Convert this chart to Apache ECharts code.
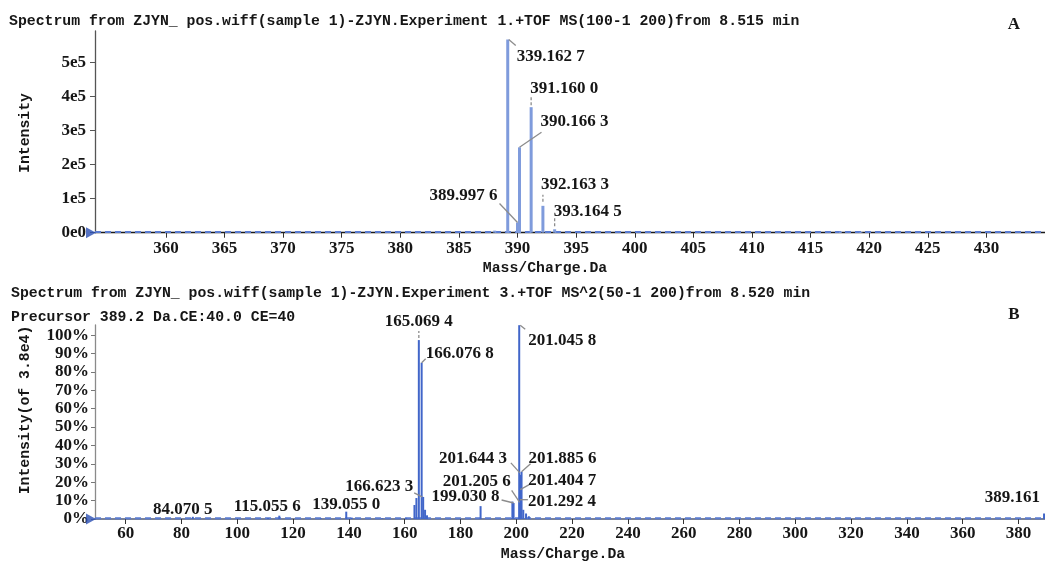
<!DOCTYPE html>
<html>
<head>
<meta charset="utf-8">
<script src="https://cdn.jsdelivr.net/npm/echarts@6/dist/echarts.min.js"></script>
<style>
  html, body { margin: 0; padding: 0; background: #fff; }
  #chart { width: 1045px; height: 562px; }
</style>
</head>
<body>
<div id="chart"></div>
<script>
// ---- Panel A: TOF MS survey spectrum ----
const titleA = 'Spectrum from ZJYN_ pos.wiff(sample 1)-ZJYN.Experiment 1.+TOF MS(100-1 200)from 8.515 min';
const massA = [388.05, 389.1627, 389.9976, 390.1663, 391.1600, 392.1633, 393.1645, 417.55, 419.30];
const intensityA = [6000, 568000, 30000, 251000, 369000, 79000, 10000, 3000, 2000];
const peakLabelsA = ['', '339.162 7', '389.997 6', '390.166 3', '391.160 0', '392.163 3', '393.164 5', '', ''];
const noiseFloorA = [[353.95, 1800], [435.0, 1800]];
const xTicksA = [360, 365, 370, 375, 380, 385, 390, 395, 400, 405, 410, 415, 420, 425, 430];
const yTicksA = [0, 100000, 200000, 300000, 400000, 500000];
const yTickLabelsA = ['0e0', '1e5', '2e5', '3e5', '4e5', '5e5'];

// ---- Panel B: TOF MS^2 product ion spectrum (% of 3.8e4) ----
const titleB1 = 'Spectrum from ZJYN_ pos.wiff(sample 1)-ZJYN.Experiment 3.+TOF MS^2(50-1 200)from 8.520 min';
const titleB2 = 'Precursor 389.2 Da.CE:40.0 CE=40';
const massB = [84.0705, 111.0, 115.0556, 130.0, 139.0550, 141.0, 152.0, 160.5,
               163.5, 164.2, 165.0694, 166.0768, 166.6233, 167.3, 168.0,
               187.2, 198.6, 199.0308, 201.0458, 201.2056, 201.2924, 201.4047,
               201.6443, 201.8856, 202.5, 203.5, 204.5, 389.161];
const percentB = [1.2, 0.5, 1.8, 0.3, 4.0, 0.8, 0.4, 0.6,
                  7.6, 11.4, 97.3, 85.0, 12.0, 5.0, 2.0,
                  7.0, 9.5, 8.7, 105.4, 9.0, 10.5, 16.0,
                  24.0, 25.7, 5.0, 3.0, 1.5, 3.0];
const peakLabelsB = ['84.070 5', '', '115.055 6', '', '139.055 0', '', '', '',
                     '', '', '165.069 4', '166.076 8', '166.623 3', '', '',
                     '', '', '199.030 8', '201.045 8', '201.205 6', '201.292 4', '201.404 7',
                     '201.644 3', '201.885 6', '', '', '', '389.161'];
const noiseFloorB = [[49, 0.4], [389.5, 0.4]];
const xTicksB = [60, 80, 100, 120, 140, 160, 180, 200, 220, 240, 260, 280, 300, 320, 340, 360, 380];
const yTicksB = [0, 10, 20, 30, 40, 50, 60, 70, 80, 90, 100];
const yTickLabelsB = ['0%', '10%', '20%', '30%', '40%', '50%', '60%', '70%', '80%', '90%', '100%'];

// ---- annotation placement: offsets (px) from the peak apex ----
const annotLayoutA = {
  '339.162 7': { line: [[1, 0], [8, 6]], at: [9, 17], align: 'left' },
  '391.160 0': { line: [[0, -2], [0, -11]], dash: true, at: [-1, -19], align: 'left' },
  '390.166 3': { line: [[0, 0], [22, -15]], at: [21, -26], align: 'left' },
  '389.997 6': { line: [[0, 0], [-18, -19]], at: [-20, -27], align: 'right' },
  '392.163 3': { line: [[0, -4], [0, -11]], dash: true, at: [-2, -21], align: 'left' },
  '393.164 5': { line: [[0, -3], [0, -11]], dash: true, at: [-1, -18], align: 'left' }
};
const annotLayoutB = {
  '84.070 5': { at: [-10, -7], align: 'center' },
  '115.055 6': { at: [-12, -9], align: 'center' },
  '139.055 0': { at: [0, -7], align: 'center' },
  '165.069 4': { line: [[0, -2], [0, -9]], dash: true, at: [0, -18], align: 'center' },
  '166.076 8': { line: [[0, 0], [4, -4]], at: [4, -9], align: 'left' },
  '166.623 3': { line: [[-1, 0], [-9, -4]], at: [-10, -10], align: 'right' },
  '199.030 8': { line: [[0, 0], [-12, -3]], at: [-14, -6], align: 'right' },
  '201.045 8': { line: [[1, 0], [6, 4]], at: [9, 15], align: 'left' },
  '201.205 6': { line: [[0, 0], [-8, -12]], at: [-9, -21], align: 'right' },
  '201.292 4': { line: [[0, 0], [8, 0]], at: [8, 2], align: 'left' },
  '201.404 7': { line: [[0, 0], [9, -5]], at: [8, -9], align: 'left' },
  '201.644 3': { line: [[-1, -2], [-10, -12]], at: [-14, -16], align: 'right' },
  '201.885 6': { line: [[0, 0], [9, -8]], at: [7, -13], align: 'left' },
  '389.161': { at: [-4, -16], align: 'right' }
};

const MONO = '"Liberation Mono", "DejaVu Sans Mono", monospace';
const SERIF = '"Liberation Serif", "DejaVu Serif", serif';
const TEXT = '#161616';
const NUM_FONT = 'bold 17px ' + SERIF;

function zip(xs, ys) { return xs.map((x, i) => [x, ys[i]]); }

// vertical stick for every centroided peak
function stickRenderer(width, color) {
  return function (params, api) {
    const top = api.coord([api.value(0), api.value(1)]);
    const base = api.coord([api.value(0), 0]);
    return {
      type: 'rect',
      shape: { x: top[0] - width / 2, y: top[1], width: width, height: base[1] - top[1] },
      style: { fill: color }
    };
  };
}

// m/z annotation with leader line
function annotRenderer(labels, layout) {
  return function (params, api) {
    const text = labels[params.dataIndex];
    const a = layout[text];
    if (!text || !a) return null;
    const top = api.coord([api.value(0), api.value(1)]);
    const children = [];
    if (a.line) {
      children.push({
        type: 'polyline',
        shape: { points: a.line.map(p => [top[0] + p[0], top[1] + p[1]]) },
        style: { stroke: '#8c8c8c', lineWidth: 1.3, lineDash: a.dash ? [3, 2] : null, fill: null }
      });
    }
    children.push({
      type: 'text',
      x: top[0] + a.at[0],
      y: top[1] + a.at[1],
      style: { text: text, fill: TEXT, font: NUM_FONT, align: a.align, verticalAlign: 'middle' }
    });
    return { type: 'group', children: children };
  };
}

function tickFormatter(ticks, labels) {
  return v => { const i = ticks.indexOf(v); return i >= 0 ? labels[i] : ''; };
}

const axisLabelStyle = { fontFamily: SERIF, fontSize: 17, fontWeight: 'bold', color: TEXT };

const chart = echarts.init(document.getElementById('chart'), null, { renderer: 'canvas' });

chart.setOption({
  animation: false,
  backgroundColor: '#ffffff',
  grid: [
    { left: 95, top: 31, width: 950, height: 201.7 },
    { left: 95, top: 325, width: 950, height: 194 }
  ],
  xAxis: [
    {
      gridIndex: 0, type: 'value', min: 353.95, max: 435.0,
      axisLine: { lineStyle: { color: '#1a1a1a', width: 1.3 } },
      axisTick: { customValues: xTicksA, length: 5, lineStyle: { color: '#333' } },
      axisLabel: Object.assign({ customValues: xTicksA, margin: 7 }, axisLabelStyle),
      splitLine: { show: false }
    },
    {
      gridIndex: 1, type: 'value', min: 49, max: 389.5,
      axisLine: { lineStyle: { color: '#4f5a78', width: 1.5 } },
      axisTick: { customValues: xTicksB, length: 5, lineStyle: { color: '#333' } },
      axisLabel: Object.assign({ customValues: xTicksB, margin: 6 }, axisLabelStyle),
      splitLine: { show: false }
    }
  ],
  yAxis: [
    {
      gridIndex: 0, type: 'value', min: 0, max: 593000,
      axisLine: { show: true, lineStyle: { color: '#555', width: 1.3 } },
      axisTick: { show: true, customValues: yTicksA, length: 5, lineStyle: { color: '#555' } },
      axisLabel: Object.assign({ customValues: yTicksA, margin: 9,
        formatter: tickFormatter(yTicksA, yTickLabelsA) }, axisLabelStyle),
      splitLine: { show: false }
    },
    {
      gridIndex: 1, type: 'value', min: 0, max: 105.5,
      axisLine: { show: true, lineStyle: { color: '#8a8a8a', width: 1.3 } },
      axisTick: { show: true, customValues: yTicksB, length: 4, lineStyle: { color: '#777' } },
      axisLabel: Object.assign({ customValues: yTicksB, margin: 6,
        formatter: tickFormatter(yTicksB, yTickLabelsB) }, axisLabelStyle),
      splitLine: { show: false }
    }
  ],
  graphic: [
    { type: 'text', x: 9, y: 21, style: { text: titleA, font: 'bold 14.8px ' + MONO, fill: TEXT, verticalAlign: 'middle' } },
    { type: 'text', x: 1014, y: 25, style: { text: 'A', font: 'bold 17px ' + SERIF, fill: TEXT, align: 'center', verticalAlign: 'middle' } },
    { type: 'text', x: 25, y: 133, rotation: Math.PI / 2, style: { text: 'Intensity', font: 'bold 14.8px ' + MONO, fill: TEXT, align: 'center', verticalAlign: 'middle' } },
    { type: 'text', x: 545, y: 268, style: { text: 'Mass/Charge.Da', font: 'bold 14.8px ' + MONO, fill: TEXT, align: 'center', verticalAlign: 'middle' } },
    { type: 'text', x: 11, y: 293, style: { text: titleB1, font: 'bold 14.8px ' + MONO, fill: TEXT, verticalAlign: 'middle' } },
    { type: 'text', x: 11, y: 317, style: { text: titleB2, font: 'bold 14.8px ' + MONO, fill: TEXT, verticalAlign: 'middle' } },
    { type: 'text', x: 1014, y: 315, style: { text: 'B', font: 'bold 17px ' + SERIF, fill: TEXT, align: 'center', verticalAlign: 'middle' } },
    { type: 'text', x: 25, y: 410, rotation: Math.PI / 2, style: { text: 'Intensity(of 3.8e4)', font: 'bold 14.8px ' + MONO, fill: TEXT, align: 'center', verticalAlign: 'middle' } },
    { type: 'text', x: 563, y: 554, style: { text: 'Mass/Charge.Da', font: 'bold 14.8px ' + MONO, fill: TEXT, align: 'center', verticalAlign: 'middle' } }
  ],
  series: [
    // panel A
    {
      type: 'line', xAxisIndex: 0, yAxisIndex: 0, data: noiseFloorA, symbol: 'none', silent: true,
      lineStyle: { color: '#5a7bd0', width: 2, type: [6, 4] }, z: 2
    },
    {
      type: 'custom', xAxisIndex: 0, yAxisIndex: 0, data: zip(massA, intensityA),
      encode: { x: 0, y: 1 }, renderItem: stickRenderer(3, '#7f9bdc'), z: 3
    },
    {
      type: 'custom', xAxisIndex: 0, yAxisIndex: 0, data: zip(massA, intensityA),
      encode: { x: 0, y: 1 }, renderItem: annotRenderer(peakLabelsA, annotLayoutA), z: 4
    },
    {
      type: 'scatter', xAxisIndex: 0, yAxisIndex: 0, data: [[353.95, 0]], clip: false,
      symbol: 'triangle', symbolRotate: -90, symbolSize: [11, 10], symbolOffset: [-4, 0],
      itemStyle: { color: '#2b4fb3' }, silent: true, z: 5
    },
    // panel B
    {
      type: 'line', xAxisIndex: 1, yAxisIndex: 1, data: noiseFloorB, symbol: 'none', silent: true,
      lineStyle: { color: '#5a7bd0', width: 2, type: [6, 4] }, z: 2
    },
    {
      type: 'custom', xAxisIndex: 1, yAxisIndex: 1, data: zip(massB, percentB),
      encode: { x: 0, y: 1 }, renderItem: stickRenderer(2, '#4166c9'), z: 3
    },
    {
      type: 'custom', xAxisIndex: 1, yAxisIndex: 1, data: zip(massB, percentB),
      encode: { x: 0, y: 1 }, renderItem: annotRenderer(peakLabelsB, annotLayoutB), z: 4
    },
    {
      type: 'scatter', xAxisIndex: 1, yAxisIndex: 1, data: [[49, 0]], clip: false,
      symbol: 'triangle', symbolRotate: -90, symbolSize: [11, 10], symbolOffset: [-4, 0],
      itemStyle: { color: '#2b4fb3' }, silent: true, z: 5
    }
  ]
});
</script>
</body>
</html>
